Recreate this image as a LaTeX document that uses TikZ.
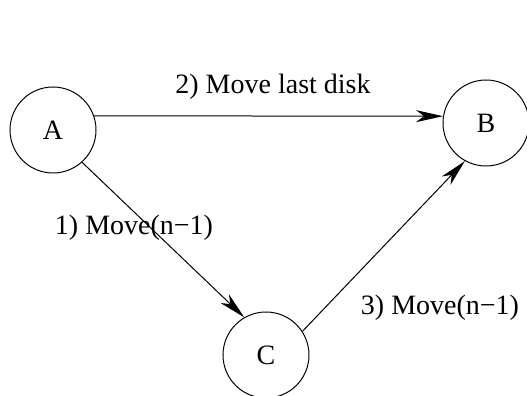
\documentclass[tikz,border=0pt]{standalone}
\usepackage{fontspec}
\setmainfont{Liberation Serif}
\usepackage{tikz}
\usetikzlibrary{arrows.meta}

\tikzset{
    peg/.style={draw, circle, line width=0.5pt, minimum size=43pt, inner sep=0pt},
    move/.style={draw, line width=0.5pt, -{Stealth[length=13.5pt, width=6pt, inset=4pt]}},
    movelabel/.style={inner sep=0pt}
}

\begin{document}
\begin{tikzpicture}[x=0.5pt, y=-0.5pt, font=\fontsize{14}{17}\selectfont]
                \useasboundingbox (0,0) rectangle (527,396);

                \node[peg] (A) at (53, 130) {A};
                \node[peg] (B) at (486, 123) {B};
                \node[peg] (C) at (266, 355) {C};

                \node[movelabel] (lastdisk) at (273, 87) {2) Move last disk};
                \node[movelabel] (first) at (134, 228) {1) Move(n−1)};
                \node[movelabel] (third) at (440, 308) {3) Move(n−1)};

                \draw[move] (A.19) -- (B.171);
                \draw[move] (A.-48) -- (C.120);
                \draw[move] (C.33) -- (B.241);
            \end{tikzpicture}
\end{document}
